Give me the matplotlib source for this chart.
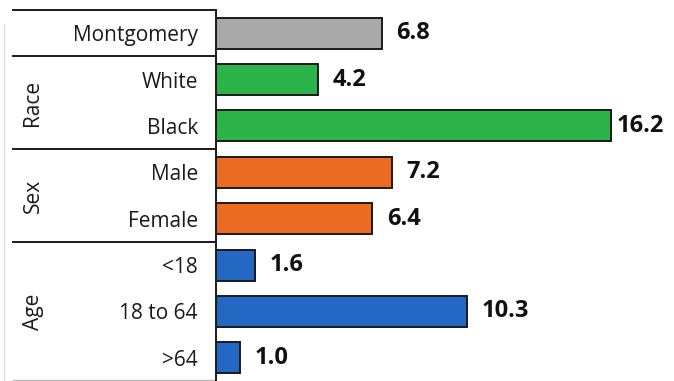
import matplotlib
matplotlib.use("Agg")
import matplotlib.pyplot as plt
from matplotlib.transforms import blended_transform_factory

categories = ["Montgomery", "White", "Black", "Male", "Female", "<18", "18 to 64", ">64"]
values = [6.8, 4.2, 16.2, 7.2, 6.4, 1.6, 10.3, 1.0]
value_labels = ["6.8", "4.2", "16.2", "7.2", "6.4", "1.6", "10.3", "1.0"]
groups = ["", "Race", "Race", "Sex", "Sex", "Age", "Age", "Age"]
group_names = ["Race", "Sex", "Age"]

group_colors = {"": "#a9a9a9", "Race": "#2cb34a", "Sex": "#ec6b23", "Age": "#2468c4"}

plt.rcParams["font.family"] = ["Open Sans", "DejaVu Sans"]

W, H = 674, 381
fig = plt.figure(figsize=(W / 100, H / 100), dpi=100)
spine_x = 216
ax = fig.add_axes([spine_x / W, 0, 1 - spine_x / W, (H - 10) / H])

pos = list(range(len(categories)))
colors = [group_colors[g] for g in groups]
ax.barh(pos, values, height=0.67, color=colors, edgecolor="#1a1a1a", linewidth=1.4, zorder=2)

ax.set_ylim(len(categories) - 0.5, -0.5)
ax.set_xlim(0, (W - spine_x) / 24.4)

# value labels; pull a label back in if it would run past the right edge
renderer = fig.canvas.get_renderer()
for p, v, lab in zip(pos, values, value_labels):
    t = ax.annotate(lab, (v, p), xytext=(10.5, 0), textcoords="offset points",
                    ha="left", va="center", fontsize=17, fontweight="bold", color="#111111")
    bb = t.get_window_extent(renderer)
    overflow = bb.x1 - (W - 10)
    if overflow > 0:
        t.set_position((10.5 - overflow * 72 / 100, 0))

ax.set_yticks(pos)
ax.set_yticklabels(categories, fontsize=15, color="#1a1a1a")
ax.tick_params(axis="y", length=0, pad=13)
ax.set_xticks([])
for s in ["top", "right", "bottom"]:
    ax.spines[s].set_visible(False)
ax.spines["left"].set_linewidth(1.4)
ax.spines["left"].set_color("#1a1a1a")

# table rules on the label side
tr = blended_transform_factory(ax.transAxes, ax.transData)
x0 = (13 - spine_x) / (W - spine_x)
for yb in [-0.5, 0.5, 2.5, 4.5]:
    ax.plot([x0, 0], [yb, yb], transform=tr, color="#1a1a1a", lw=1.4, clip_on=False)
ax.plot([x0, 0], [7.48, 7.48], transform=tr, color="#bbbbbb", lw=1.0, clip_on=False)
xl = (4 - spine_x) / (W - spine_x)
ax.plot([xl, xl], [-0.2, 7.48], transform=tr, color="#dddddd", lw=1.0, clip_on=False)

# group names, rotated
xg = (33 - spine_x) / (W - spine_x)
for name in group_names:
    idx = [i for i, g in enumerate(groups) if g == name]
    yc = (idx[0] + idx[-1]) / 2
    ax.text(xg, yc, name, transform=tr, rotation=90, ha="center", va="center",
            fontsize=15, color="#1a1a1a")

fig.savefig("out.png", dpi=100)
